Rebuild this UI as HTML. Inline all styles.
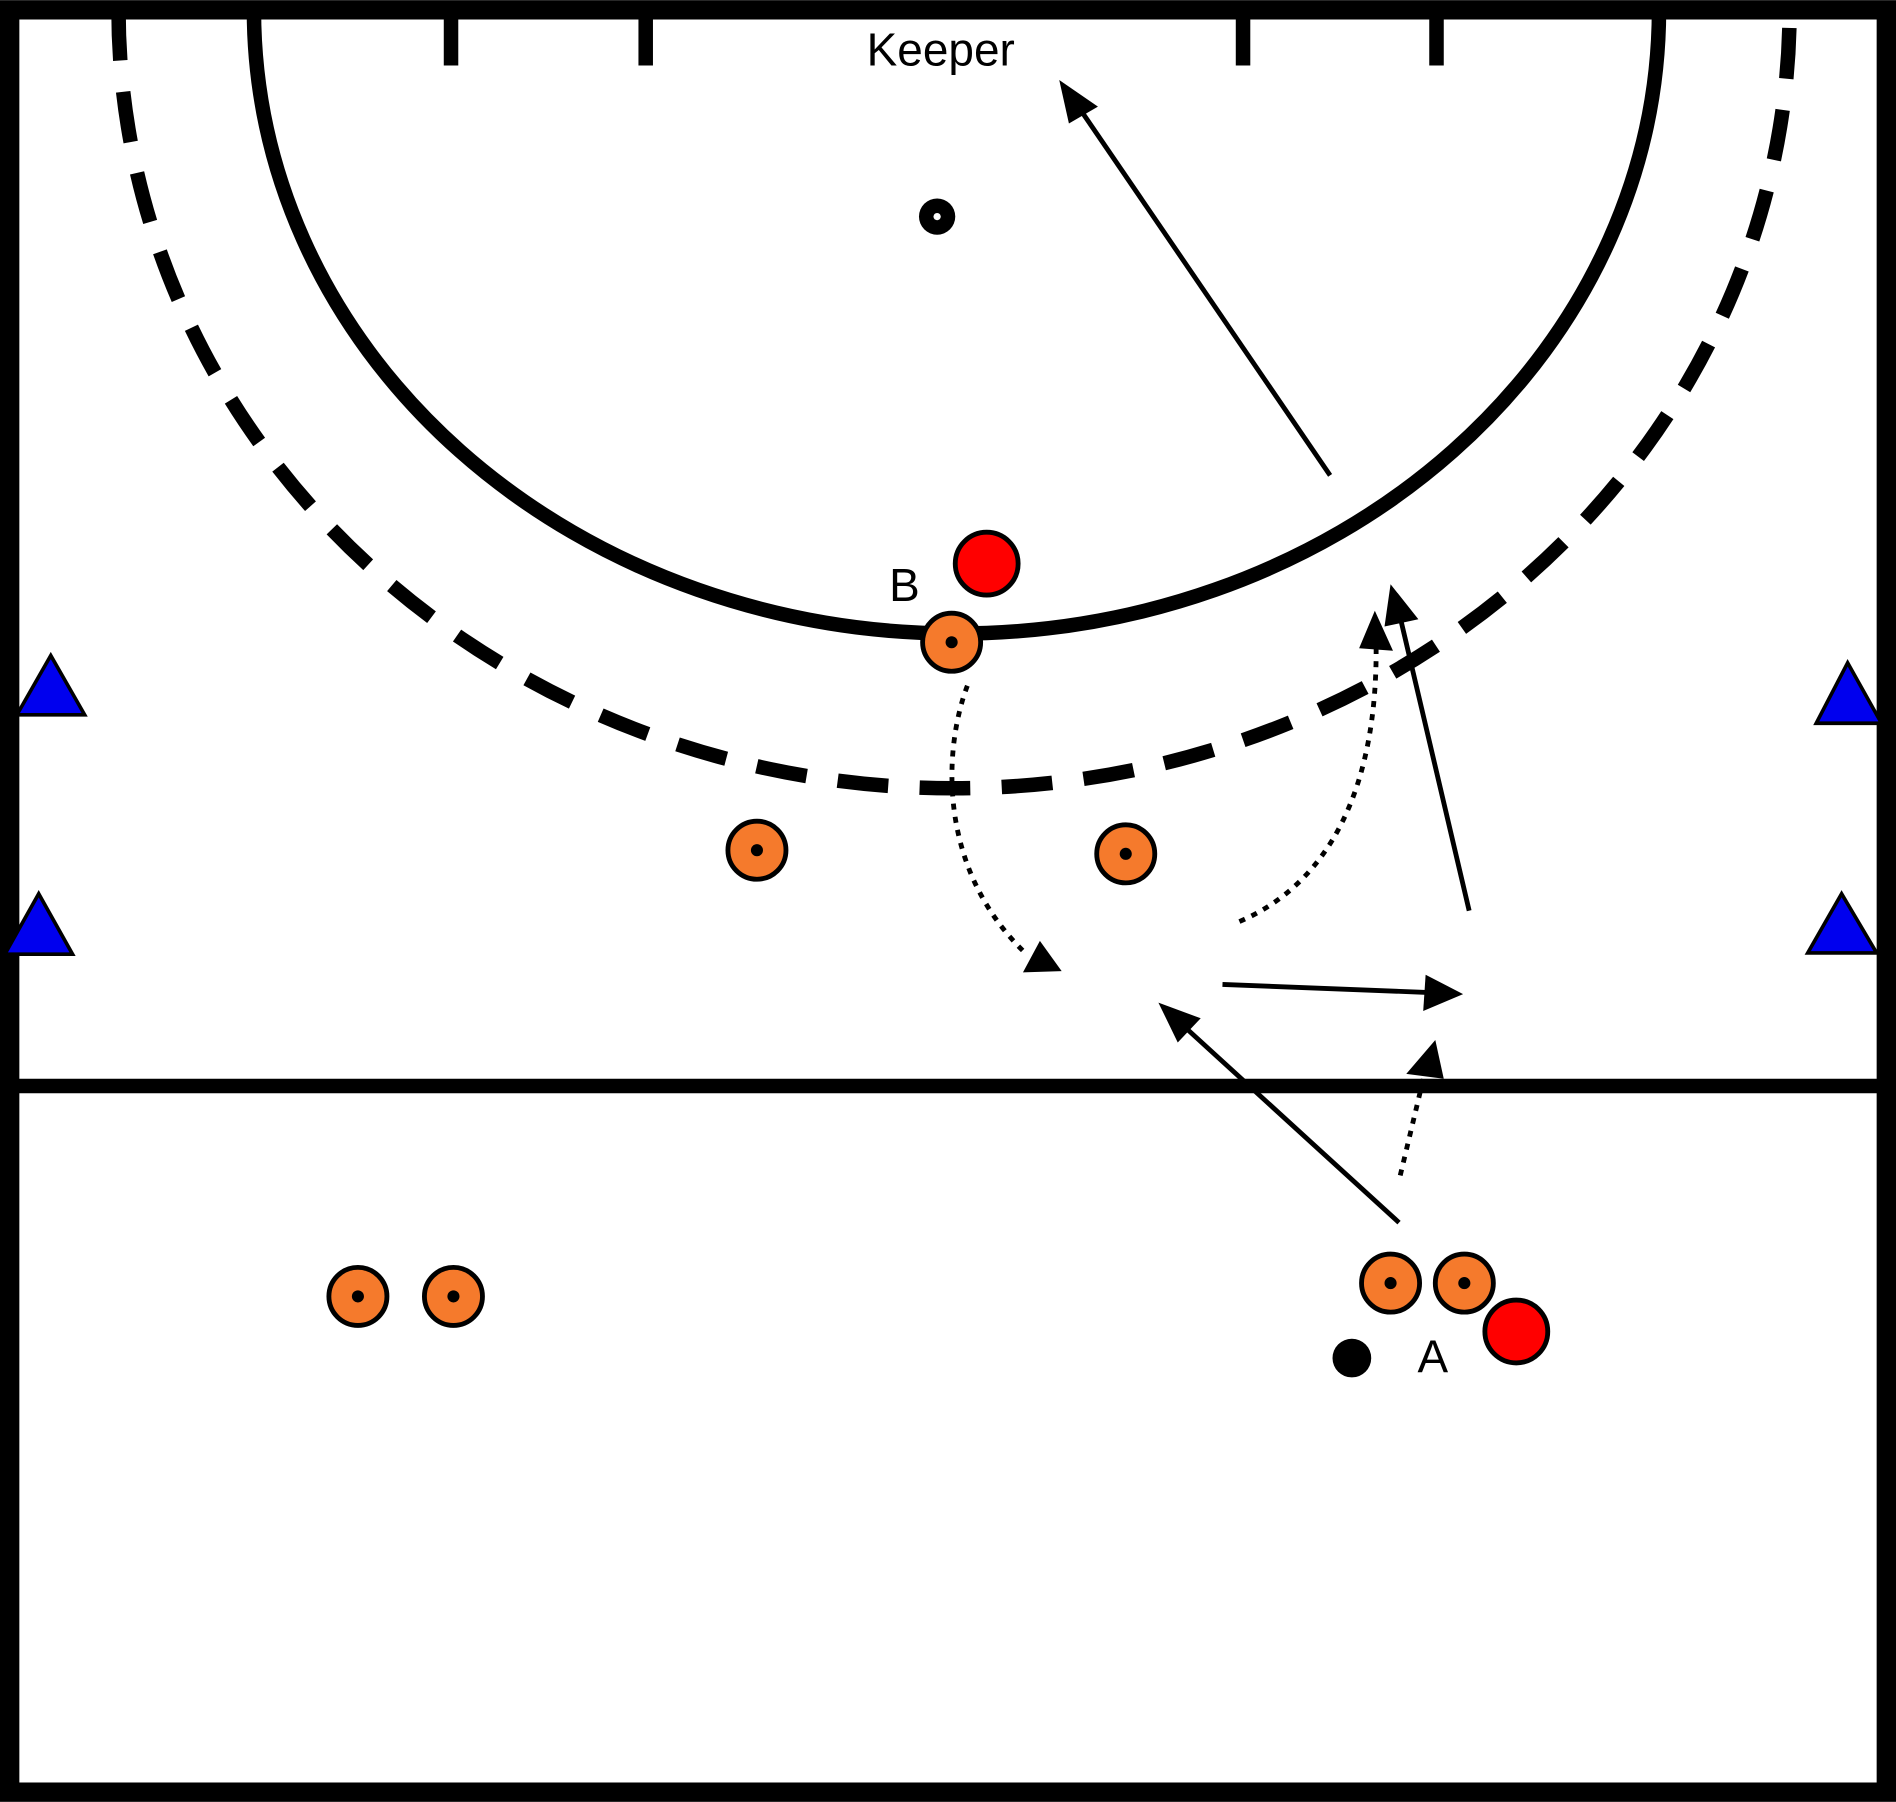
<!DOCTYPE html>
<html><head><meta charset="utf-8"><style>
html,body{margin:0;padding:0;background:#fff;}
svg{display:block;}
</style></head><body>
<svg width="1896" height="1802" viewBox="0 0 1568 1490" xmlns="http://www.w3.org/2000/svg">
<defs>
<marker id="ah" markerWidth="10" markerHeight="8" refX="9" refY="4" orient="auto" markerUnits="userSpaceOnUse" viewBox="0 0 10 8" style="overflow:visible">
</marker>
</defs>
<rect x="0" y="0" width="1568" height="1490" fill="#fff"/>
<rect x="8" y="8" width="1552" height="1474" fill="none" stroke="#000" stroke-width="16"/>
<line x1="8" y1="898" x2="1560" y2="898" stroke="#000" stroke-width="12"/>
<path d="M210,8 A581,516 0 0 0 1372,8" fill="none" stroke="#000" stroke-width="12"/>
<path d="M98,8 A691,644 0 0 0 1480,8" fill="none" stroke="#000" stroke-width="12" stroke-dasharray="42,26"/>
<g stroke="#000" stroke-width="12">
<line x1="373" y1="8" x2="373" y2="54"/><line x1="534" y1="8" x2="534" y2="54"/>
<line x1="1028" y1="8" x2="1028" y2="54"/><line x1="1188" y1="8" x2="1188" y2="54"/>
</g>
<text x="778" y="54" font-family="Liberation Sans, sans-serif" font-size="38" text-anchor="middle">Keeper</text>
<circle cx="775" cy="179" r="15" fill="#000"/><circle cx="775" cy="179" r="3" fill="#fff"/>

<g stroke="#000" stroke-width="4" fill="none">
<line x1="1100" y1="393" x2="889" y2="84"/>
<path d="M800,567 C780,620 775,720 850,790" stroke-dasharray="5,6"/>
<path d="M1025,762 C1100,730 1140,650 1138,530" stroke-dasharray="5,6"/>
<line x1="1215" y1="753" x2="1156" y2="502"/>
<line x1="1011" y1="814" x2="1190" y2="821"/>
<line x1="1157" y1="1011" x2="973" y2="843"/>
<line x1="1158" y1="972" x2="1180" y2="880" stroke-dasharray="5,6"/>
</g>
<g fill="#000">
<polygon points="876,66 908,88 884,102"/>
<polygon points="878,803 846,804 860,778"/>
<polygon points="1137,505 1152,538 1124,536"/>
<polygon points="1150,483 1173,512 1145,518"/>
<polygon points="1210,822 1177,836 1179,806"/>
<polygon points="958,829 993,842 974,862"/>
<polygon points="1187,860 1194,892 1163,888"/>
</g>

<text x="748" y="497" font-family="Liberation Sans, sans-serif" font-size="38" text-anchor="middle">B</text>
<text x="1185" y="1135" font-family="Liberation Sans, sans-serif" font-size="38" text-anchor="middle">A</text>
<g stroke="#000" stroke-width="4" fill="#ff0000">
<circle cx="816" cy="466" r="26"/><circle cx="1254" cy="1101" r="26"/>
</g>
<circle cx="1118" cy="1123" r="16" fill="#000"/>
<g stroke="#000" stroke-width="4" fill="#f57a2c">
<circle cx="787" cy="531" r="24"/><circle cx="626" cy="703" r="24"/><circle cx="931" cy="706" r="24"/>
<circle cx="296" cy="1072" r="24"/><circle cx="375" cy="1072" r="24"/>
<circle cx="1150" cy="1061" r="24"/><circle cx="1211" cy="1061" r="24"/>
</g>
<g fill="#000">
<circle cx="787" cy="531" r="5"/><circle cx="626" cy="703" r="5"/><circle cx="931" cy="706" r="5"/>
<circle cx="296" cy="1072" r="5"/><circle cx="375" cy="1072" r="5"/>
<circle cx="1150" cy="1061" r="5"/><circle cx="1211" cy="1061" r="5"/>
</g>
<g fill="#0000ee" stroke="#000" stroke-width="3">
<polygon points="42,542 14,591 70,591"/>
<polygon points="32,739 4,789 60,789"/>
<polygon points="1528,548 1502,598 1556,598"/>
<polygon points="1523,739 1495,788 1552,788"/>
</g>
</svg>
</body></html>
